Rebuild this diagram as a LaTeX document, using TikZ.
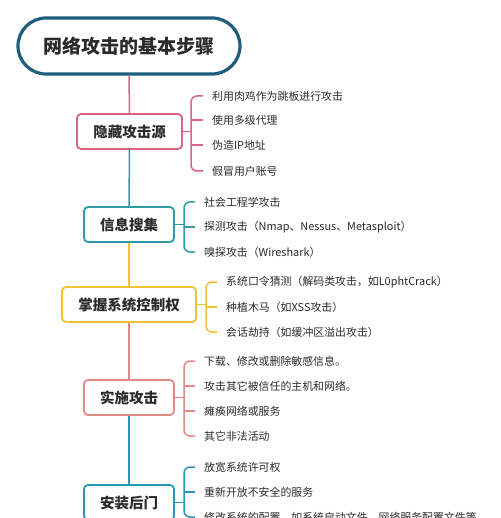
\documentclass[tikz,border=0pt]{standalone}
\usepackage{fontspec}
\setmainfont{Noto Sans CJK SC}
\definecolor{ctitle}{HTML}{1E5F7E}
\definecolor{cpink}{HTML}{D9657F}
\definecolor{cteal}{HTML}{2F9BA6}
\definecolor{cyel}{HTML}{F0C132}
\definecolor{csal}{HTML}{E38A82}
\definecolor{cblue}{HTML}{2B97B6}
\definecolor{ctext}{HTML}{2B2B2B}
\tikzset{
  titlebox/.style={draw=ctitle, line width=3.2pt, rounded corners=28pt, minimum width=222pt, minimum height=56pt, font=\fontsize{19}{22}\selectfont\bfseries, text=ctext},
  stagebox/.style={draw=#1, line width=1.8pt, rounded corners=4pt, minimum height=35pt, fill=white, font=\fontsize{14.5}{17}\selectfont\bfseries, text=ctext},
  item/.style={anchor=west, inner xsep=9pt, inner ysep=0pt, font=\fontsize{10.9}{13}\selectfont, text=ctext},
  link/.style={draw=#1, line width=1.5pt},
  brace/.style={draw=#1, line width=1.5pt, rounded corners=6pt},
}
\begin{document}
\begin{tikzpicture}[x=1pt,y=-1pt]
\useasboundingbox[fill=white] (0,0) rectangle (500,518);

\node[titlebox] (t) at (129,46) {网络攻击的基本步骤};

\node[stagebox=cpink, minimum width=105pt] (h1) at (129.5,131.5) {隐藏攻击源};
\node[stagebox=cteal, minimum width=90pt] (h2) at (129,224.5) {信息搜集};
\node[stagebox=cyel, minimum width=134pt] (h3) at (129,304.5) {掌握系统控制权};
\node[stagebox=csal, minimum width=90pt] (h4) at (129,397.5) {实施攻击};
\node[stagebox=cblue, minimum width=90pt] (h5) at (129,502.5) {安装后门};

% trunk
\draw[link=cpink] (t.south) -- (h1.north);
\draw[link=cteal] (h1.south) -- (h2.north);
\draw[link=cyel] (h2.south) -- (h3.north);
\draw[link=csal] (h3.south) -- (h4.north);
\draw[link=cblue] (h4.south) -- (h5.north);

% group 1
\node[item] (a1) at (203,96) {利用肉鸡作为跳板进行攻击};
\node[item] (a2) at (203,120) {使用多级代理};
\node[item] (a3) at (203,145) {伪造IP地址};
\node[item] (a4) at (203,171) {假冒用户账号};
\coordinate (b1) at (191,131.5);
\draw[link=cpink] (h1.east) -- (b1);
\draw[brace=cpink] (a1.west) -| (b1) |- (a4.west);
\draw[link=cpink] (b1 |- a2.west) -- (a2.west);
\draw[link=cpink] (b1 |- a3.west) -- (a3.west);

% group 2
\node[item] (b21) at (195,202) {社会工程学攻击};
\node[item] (b22) at (195,227) {探测攻击（Nmap、Nessus、Metasploit）};
\node[item] (b23) at (195,252) {嗅探攻击（Wireshark）};
\coordinate (b2) at (184,224.5);
\draw[link=cteal] (h2.east) -- (b2);
\draw[brace=cteal] (b21.west) -| (b2) |- (b23.west);
\draw[link=cteal] (b2 |- b22.west) -- (b22.west);

% group 3
\node[item] (c1) at (217,282) {系统口令猜测（解码类攻击，如L0phtCrack）};
\node[item] (c2) at (217,307) {种植木马（如XSS攻击）};
\node[item] (c3) at (217,332) {会话劫持（如缓冲区溢出攻击）};
\coordinate (b3) at (206,304.5);
\draw[link=cyel] (h3.east) -- (b3);
\draw[brace=cyel] (c1.west) -| (b3) |- (c3.west);
\draw[link=cyel] (b3 |- c2.west) -- (c2.west);

% group 4
\node[item] (d1) at (195,361) {下载、修改或删除敏感信息。};
\node[item] (d2) at (195,386) {攻击其它被信任的主机和网络。};
\node[item] (d3) at (195,411) {瘫痪网络或服务};
\node[item] (d4) at (195,436) {其它非法活动};
\coordinate (b4) at (184,397.5);
\draw[link=csal] (h4.east) -- (b4);
\draw[brace=csal] (d1.west) -| (b4) |- (d4.west);
\draw[link=csal] (b4 |- d2.west) -- (d2.west);
\draw[link=csal] (b4 |- d3.west) -- (d3.west);

% group 5
\node[item] (e1) at (195,467) {放宽系统许可权};
\node[item] (e2) at (195,492) {重新开放不安全的服务};
\node[item] (e3) at (195,517) {修改系统的配置，如系统启动文件、网络服务配置文件等};
\coordinate (b5) at (184,502.5);
\draw[link=cblue] (h5.east) -- (b5);
\draw[brace=cblue] (e1.west) -| (b5) |- (e3.west);
\draw[link=cblue] (b5 |- e2.west) -- (e2.west);
\end{tikzpicture}
\end{document}
